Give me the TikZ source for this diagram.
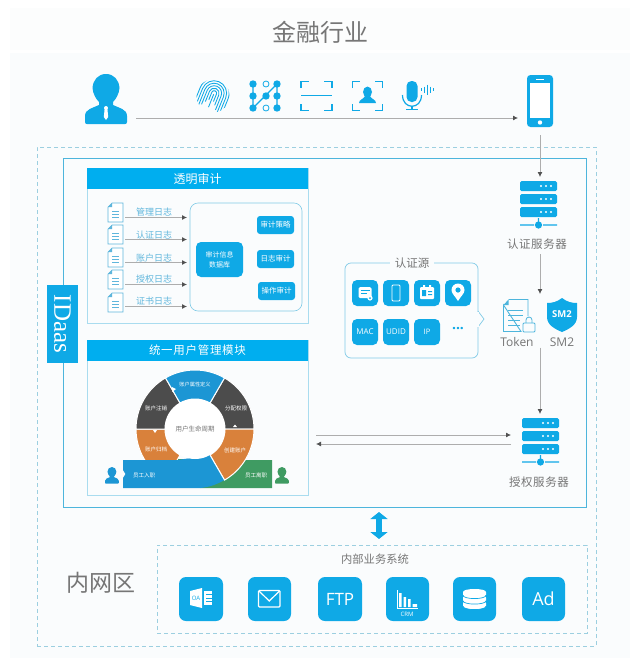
\documentclass[tikz,border=0pt]{standalone}
\usepackage{fontspec}
\setmainfont{Noto Sans CJK SC}
\newfontfamily\latinf{Open Sans}
\newfontfamily\seriff{Liberation Serif}
\usetikzlibrary{arrows.meta}
\definecolor{mainblue}{HTML}{0FA9E6}
\definecolor{headblue}{HTML}{00AEEF}
\definecolor{ringblue}{HTML}{1C96D4}
\definecolor{ringdark}{HTML}{4C4C4C}
\definecolor{ringor}{HTML}{D9813B}
\definecolor{ringgr}{HTML}{3F9B62}
\definecolor{txtgrey}{HTML}{767676}
\definecolor{pale}{HTML}{FAFCFD}
\definecolor{palet}{HTML}{FCFDFD}
\definecolor{frameb}{HTML}{4DB5DC}
\definecolor{panelb}{HTML}{A9DCEF}
\definecolor{dashb}{HTML}{9CCFE0}
\definecolor{doclab}{HTML}{5FB6DC}
\newcommand\fs[1]{\fontsize{#1}{#1}\selectfont}
\newcommand\bx[7]{\pgfmathsetmacro\cxx{(#2+#4)/2}\pgfmathsetmacro\cyy{(#3+#5)/2}\pgfmathsetmacro\www{#4-#2}\pgfmathsetmacro\hhh{#5-#3}\node[#6,minimum width=\www pt,minimum height=\hhh pt,inner sep=0pt,outer sep=0pt](#1) at (\cxx,\cyy){#7};}
\newcommand\servericon[3]{%
 \begin{scope}[shift={(#2,#3)}]
 \bx{#1}{0}{0}{37}{50}{}{}
 \foreach \yy in {0,13,26}{
  \fill[mainblue,rounded corners=1.5pt] (0,\yy) rectangle (37,\yy+10);
  \foreach \xx in {21,26,31}{\fill[white] (\xx,\yy+5) circle[radius=1.2pt];}
 }
 \fill[mainblue] (0,43.3) rectangle (14,44.7) (23,43.3) rectangle (37,44.7) (17.8,37) rectangle (19.2,41);
 \fill[mainblue] (18.5,44) circle[radius=3.6pt];
 \end{scope}}
\newcommand\docicon[3]{%
 \begin{scope}[shift={(#2,#3)}]
 \bx{#1}{0}{0}{15}{19}{}{}
 \draw[doclab,line width=.7pt,fill=white] (4,0) -- (15,0) -- (15,19) -- (0,19) -- (0,4) -- cycle;
 \fill[doclab] (4,0) -- (4,4) -- (0,4) -- cycle;
 \draw[doclab,line width=.5pt] (4,8) -- (11,8) (4,11) -- (11,11) (4,14) -- (11,14);
 \end{scope}}
\newcommand\personshape[4]{% x y scale colour
 \begin{scope}[shift={(#1,#2)},x=#3pt,y=-#3pt]
 \fill[#4] (21,0) .. controls (13,0) and (8,6) .. (7.5,14) .. controls (8,20) and (11,25) .. (14,28) -- (14,31) .. controls (8,34) and (0,35) .. (0,42) -- (0,48) .. controls (0,49.5) and (1,50) .. (2,50) -- (40,50) .. controls (41,50) and (42,49.5) .. (42,48) -- (42,42) .. controls (42,35) and (34,34) .. (28,31) -- (28,28) .. controls (31,25) and (34,20) .. (34.5,14) .. controls (34,6) and (29,0) .. (21,0) -- cycle;
 \end{scope}}
\newcommand\seg[3]{\fill[#1,draw=white,line width=1pt] (#2:59pt) arc[start angle=#2,end angle=#3,radius=59pt] -- (#3:30pt) arc[start angle=#3,end angle=#2,radius=30pt] -- cycle;}
\tikzset{
 x=1pt,y=-1pt,
 txt/.style={text=txtgrey,inner sep=0pt,outer sep=1pt},
 arr/.style={draw=black!32,line width=.8pt,-{Latex[length=5pt,width=5pt,color=black!68]}},
 head/.style={fill=headblue,text=white,font=\fs{12}},
 panel/.style={draw=panelb,line width=.8pt},
 tile/.style={fill=mainblue,rounded corners=5pt,text=white},
 dashbox/.style={draw=dashb,line width=.6pt,dash pattern=on 4pt off 3pt},
 ringlab/.style={text=white,font=\fs{5.2},inner sep=0pt},
 ico/.style={draw=mainblue,line width=1.4pt},
 bluearr/.style={draw=mainblue,line width=6pt,{Triangle[length=7pt,width=17pt]}-{Triangle[length=7pt,width=17pt]}},
}
\begin{document}
\begin{tikzpicture}
\useasboundingbox (0,0) rectangle (640,665);
\fill[white] (0,0) rectangle (640,665);
\fill[palet] (10,8) rectangle (630,50);
\fill[pale] (10,53) rectangle (630,658);
\node[txt,font=\fs{24}] (title) at (320,32) {金融行业};

% outer frames
\bx{outer}{37}{147}{596}{646}{dashbox}{}
\bx{main}{63}{158}{586}{507}{draw=frameb,line width=1pt}{}
\bx{idaas}{47}{285}{78}{363}{fill=mainblue}{}
\node[text=white,rotate=-90,font=\seriff\fs{25},inner sep=0pt] (idaaslabel) at (62.5,324) {IDaas};

% top icon row
\personshape{85}{74}{1}{mainblue}
\bx{person}{85}{74}{127}{124}{}{}
\fill[white] (106,108) circle[radius=2pt];
\fill[white] (104.6,109) -- (107.4,109) -- (108.2,117) -- (106,120) -- (103.8,117) -- cycle;

% fingerprint
\begin{scope}[shift={(213,96)},y=1pt,rotate=-22]
\clip (0,0) circle[radius=16.5pt];
\foreach \rr/\ll in {2.5/5,5/8,7.5/12,10/16,12.5/18,15/20}{
 \draw[mainblue,line width=.85pt] (-\rr,-\ll) -- (-\rr,3) arc[start angle=180,end angle=0,radius=\rr pt] -- (\rr,-\ll);
}
\draw[mainblue,line width=.85pt] (0,2) -- (0,-12);
\end{scope}
\bx{finger}{197}{80}{229}{112}{}{}

% pattern
\draw[mainblue,line width=1.2pt] (253,84) -- (253,108) (277,84) -- (277,108) (253,108) -- (277,84);
\foreach \xx/\yy in {253/84,277/84,253/96,266/96,277/96,253/108,277/108}{\fill[mainblue] (\xx,\yy) circle[radius=3.7pt];}
\foreach \xx/\yy in {266/84,266/108}{\draw[mainblue,line width=.8pt] (\xx,\yy) circle[radius=3pt];}
\bx{pattern}{249}{80}{281}{112}{}{}

% scan frame
\draw[ico] (301,88) -- (301,81.5) -- (309,81.5) (324,81.5) -- (332,81.5) -- (332,88) (301,104) -- (301,110.5) -- (309,110.5) (324,110.5) -- (332,110.5) -- (332,104);
\draw[mainblue,line width=.7pt] (301,95.5) -- (332,95.5);
\bx{scan}{301}{81}{332}{111}{}{}

% face scan
\draw[ico] (352.5,88) -- (352.5,81.5) -- (360,81.5) (375,81.5) -- (382.5,81.5) -- (382.5,88) (352.5,104) -- (352.5,110.5) -- (360,110.5) (375,110.5) -- (382.5,110.5) -- (382.5,104);
\fill[mainblue] (367.5,92) ellipse[x radius=4.5pt,y radius=5.5pt];
\fill[mainblue] (359,103) .. controls (359,99.5) and (364,99) .. (365,96) -- (370,96) .. controls (371,99) and (376,99.5) .. (376,103) -- cycle;
\bx{face}{352}{81}{383}{111}{}{}

% mic
\fill[mainblue,rounded corners=5pt] (406.5,81) rectangle (417.5,102);
\draw[mainblue,line width=1.2pt] (402.5,95) .. controls (402.5,110) and (421.5,110) .. (421.5,95);
\draw[mainblue,line width=1.2pt] (412,106) -- (412,109.5) (406,109.5) -- (418,109.5);
\foreach \xx/\hh in {421/1.5,424/3,427/5,430/3,433/1.5}{\draw[mainblue,line width=.7pt] (\xx,89.5-\hh) -- (\xx,89.5+\hh);}
\bx{mic}{402}{81}{434}{110}{}{}

% phone
\bx{phone}{527}{75}{553}{127}{fill=mainblue,rounded corners=3.5pt}{}
\fill[white] (530,83) rectangle (550,118);
\fill[white] (540,122.5) circle[radius=2.2pt];
\fill[white] (536,78.5) rectangle (544,80);

% servers
\servericon{authsrv}{520}{181}
\node[txt,font=\fs{11.5}] (authlab) at (537,244) {认\hspace{.6pt}证\hspace{.6pt}服\hspace{.6pt}务\hspace{.6pt}器};
\servericon{azsrv}{522}{418}
\node[txt,font=\fs{11.5}] (azlab) at (539,482) {授\hspace{.6pt}权\hspace{.6pt}服\hspace{.6pt}务\hspace{.6pt}器};

% Token
\bx{token}{503}{299}{535}{332}{}{}
\draw[frameb,line width=.9pt] (508.5,299.5) -- (528,299.5) -- (528,316) (521,331.5) -- (503.5,331.5) -- (503.5,305) -- cycle;
\fill[frameb] (508.5,299.5) -- (508.5,305) -- (503.5,305) -- cycle;
\draw[frameb,line width=.7pt] (508,310) -- (523,310) (508,315) -- (523,315) (508,320) -- (520,320) (508,325) -- (520,325);
\draw[frameb,line width=.8pt,fill=pale,rounded corners=1pt] (523,323) rectangle (535,332);
\draw[frameb,line width=.8pt] (526,323) -- (526,320) arc[start angle=180,end angle=0,radius=3pt] -- (532,323);
\node[txt,font=\latinf\fs{12}] (tokenlab) at (517,342) {Token};
% SM2
\path[fill=mainblue] (562,298) .. controls (567,302) and (572,303) .. (577,303) -- (577,317) .. controls (577,325) and (569,329) .. (562,332) .. controls (555,329) and (547,325) .. (547,317) -- (547,303) .. controls (552,303) and (557,302) .. (562,298) -- cycle;
\node[text=white,font=\latinf\bfseries\fs{9.5},inner sep=0pt] (smtxt) at (562,314) {SM2};
\bx{sm}{547}{298}{577}{332}{}{}
\node[txt,font=\latinf\fs{12}] (smlab) at (562,342) {SM2};

% auth source
\draw[frameb!70,line width=.7pt,rounded corners=6pt,fill=pale] (345,263) rectangle (478,358);
\fill[pale,draw=frameb!70,line width=.7pt] (478,311) -- (484,319) -- (478,327);
\fill[pale] (477,311.5) rectangle (479,326.5);
\bx{src}{345}{263}{478}{358}{}{}
\node[txt,fill=pale,inner xsep=5pt,font=\fs{11.5}] (srclab) at (412,263.5) {认证源};
\bx{s1}{352}{280}{378}{306}{tile}{}
\bx{s2}{383}{280}{409}{306}{tile}{}
\bx{s3}{414}{280}{440}{306}{tile}{}
\bx{s4}{445}{280}{471}{306}{tile}{}
\bx{s5}{352}{319}{378}{345}{tile,font=\latinf\fs{8}}{MAC}
\bx{s6}{383}{319}{409}{345}{tile,font=\latinf\fs{8}}{UDID}
\bx{s7}{414}{319}{440}{345}{tile,font=\latinf\fs{7.5}}{IP}
\node[text=mainblue,inner sep=0pt,font=\latinf\bfseries\fs{14}] (s8) at (458,328.5) {...};
% s1 glyph
\fill[white,rounded corners=1.5pt] (358.5,287) rectangle (371.5,298);
\draw[mainblue,line width=.7pt] (360.5,290) -- (369.5,290) (361,293) -- (367,293);
\fill[white] (370,298) circle[radius=2.6pt];
\fill[mainblue] (370,298) circle[radius=1pt];
% s2 glyph
\draw[white,line width=.9pt,rounded corners=1pt] (392,285) rectangle (400,301);
% s3 glyph
\fill[white,rounded corners=1pt] (420,287) rectangle (434,299);
\fill[mainblue] (422,290) rectangle (426,296) (428,291) rectangle (432,292) (428,294) rectangle (432,295);
\fill[white] (423,285) rectangle (425,288) (429,285) rectangle (431,288);
% s4 glyph
\fill[white] (458,301) .. controls (455,296) and (451.5,293.5) .. (451.5,290) arc[start angle=180,end angle=0,radius=6.5pt] .. controls (464.5,293.5) and (461,296) .. (458,301) -- cycle;
\fill[mainblue] (458,290) circle[radius=2.6pt];

% audit panel
\bx{audit}{87}{168}{308}{323}{panel}{}
\bx{audithead}{87}{168}{308}{189}{head}{透明审计}
\bx{inner}{190}{203}{302}{311}{draw=frameb!70,line width=.6pt,rounded corners=8pt}{}
\bx{db}{196}{242}{243}{277}{tile,font=\fs{7},align=center}{审计信息\\[3pt]数据库}
\bx{a1}{257}{216}{294}{234}{tile,rounded corners=3pt,font=\fs{7.5}}{审计策略}
\bx{a2}{257}{250}{294}{268}{tile,rounded corners=3pt,font=\fs{7.5}}{日志审计}
\bx{a3}{258}{282}{295}{300}{tile,rounded corners=3pt,font=\fs{7.5}}{操作审计}
\docicon{d1}{108}{203}
\docicon{d2}{108}{225}
\docicon{d3}{108}{248}
\docicon{d4}{108}{270}
\docicon{d5}{108}{293}
\node[text=doclab,font=\fs{9},inner sep=0pt] (l1) at (154,212) {管理日志};
\node[text=doclab,font=\fs{9},inner sep=0pt] (l2) at (154,235) {认证日志};
\node[text=doclab,font=\fs{9},inner sep=0pt] (l3) at (154,258) {账户日志};
\node[text=doclab,font=\fs{9},inner sep=0pt] (l4) at (154,279) {授权日志};
\node[text=doclab,font=\fs{9},inner sep=0pt] (l5) at (154,301) {证书日志};
\draw[arr] ([xshift=2pt,yshift=-5pt]d1.east) -- ([xshift=-3pt,yshift=-5pt]d1.east -| inner.west);
\draw[arr] ([xshift=2pt,yshift=-5pt]d2.east) -- ([xshift=-3pt,yshift=-5pt]d2.east -| inner.west);
\draw[arr] ([xshift=2pt,yshift=-5pt]d3.east) -- ([xshift=-3pt,yshift=-5pt]d3.east -| inner.west);
\draw[arr] ([xshift=2pt,yshift=-5pt]d4.east) -- ([xshift=-3pt,yshift=-5pt]d4.east -| inner.west);
\draw[arr] ([xshift=2pt,yshift=-4pt]d5.east) -- ([xshift=-3pt,yshift=-4pt]d5.east -| inner.west);

% user panel
\bx{users}{87}{340}{308}{495}{panel}{}
\bx{usershead}{87}{340}{308}{361}{head,font=\fs{11.5}}{统\hspace{.7pt}一\hspace{.7pt}用\hspace{.7pt}户\hspace{.7pt}管\hspace{.7pt}理\hspace{.7pt}模\hspace{.7pt}块}
\begin{scope}[shift={(195,429)},y=1pt]
\seg{ringor}{180}{240}
\seg{ringor}{0}{-60}
\seg{ringdark}{120}{180}
\seg{ringdark}{0}{60}
\seg{ringblue}{60}{120}
\fill[white] (-38,-1) -- (-42,-1) -- (-40,-4) -- cycle;
\fill[white] (38,2) -- (42,2) -- (40,4.5) -- cycle;
\fill[white] (-23,37) -- (-19,40) -- (-23,42) -- cycle;
\end{scope}
% lifecycle band
\fill[ringgr] (205,460) -- (272,460) -- (272,488) -- (200,488) -- cycle;
\fill[ringgr] (178,459) rectangle (195,462);
\begin{scope}[shift={(195,429)},y=1pt]
\seg{ringor}{0}{-60}
\end{scope}
\fill[ringblue] (123,460) -- (178,460) -- (210,455) -- (224.5,480) .. controls (217,484.5) and (208,487.5) .. (200,488) -- (123,488) -- (123,478) -- (125.5,474) -- (123,470) -- cycle;
\draw[white,line width=1pt] (210,455) -- (224.5,480);
\fill[white] (195,429) circle[radius=30pt];
\node[ringlab] (r1) at (195,385) {账户属性定义};
\node[ringlab,font=\fs{5.5}] (r2) at (156,408) {账户注销};
\node[ringlab,font=\fs{5.5}] (r3) at (236,408) {分配权限};
\node[ringlab,font=\fs{5.5}] (r4) at (156,449) {账户归档};
\node[ringlab,font=\fs{5.5}] (r5) at (235,450) {创建账户};
\node[txt,font=\fs{6.5}] (r0) at (195,429) {用户生命周期};
\node[ringlab,font=\fs{5.5}] (r6) at (144,475) {员工入职};
\node[ringlab,font=\fs{5.5}] (r7) at (256,475) {员工离职};
\personshape{105}{467}{.33}{ringblue}
\bx{emp1}{105}{467}{119}{482}{}{}
\personshape{275}{467}{.33}{ringgr}
\bx{emp2}{275}{467}{289}{482}{}{}
\node[text=ringgr,font=\latinf\fs{4},inner sep=0pt] (empx) at (288,481) {x};

% intranet box
\bx{biz}{157}{545}{587}{633}{dashbox}{}

% connectors
\draw[arr] ([xshift=9pt,yshift=6pt]person.south east) -- ([xshift=-9pt,yshift=-17pt]phone.west);
\draw[arr] ([yshift=-8pt]phone.south) -- ([xshift=1.5pt,yshift=4pt]authsrv.north);
\draw[arr] ([xshift=3pt,yshift=-4pt]authlab.south) -- ([xshift=3pt,yshift=5pt]authlab.south |- token.north);
\draw[arr] ([xshift=3pt]authlab.south |- tokenlab.south) -- ([xshift=-.5pt,yshift=4pt]azsrv.north);
\coordinate (userside) at (316,435);
\coordinate (userside2) at (316,444);
\draw[arr] (userside) -- ([xshift=-11pt,yshift=8pt]azsrv.west);
\draw[arr] ([xshift=-11pt,yshift=-1pt]azsrv.west) -- (userside2);
\draw[bluearr] ([xshift=54.5pt,yshift=-5pt]main.south) -- ([xshift=7pt,yshift=6pt]biz.north);

% intranet
\node[txt,font=\fs{23}] (intra) at (101,583) {内网区};
\node[txt,font=\fs{11.3}] (bizlab) at (375,559) {内部业务系统};
\bx{b1}{179}{577}{223}{621}{tile,rounded corners=7pt}{}
\bx{b2}{248}{577}{291}{621}{tile,rounded corners=7pt}{}
\bx{b3}{318}{577}{362}{621}{tile,rounded corners=7pt,font=\latinf\fs{17}}{FTP}
\bx{b4}{386}{577}{429}{621}{tile,rounded corners=7pt}{}
\bx{b5}{453}{577}{496}{621}{tile,rounded corners=7pt}{}
\bx{b6}{522}{577}{565}{621}{tile,rounded corners=7pt,font=\latinf\fs{18}}{Ad}
% OA glyph
\fill[white] (190,591) -- (202,588) -- (202,608) -- (190,605) -- cycle;
\fill[white] (203.5,591) rectangle (212,605);
\foreach \yy in {594.5,598,601.5}{\draw[mainblue,line width=.6pt] (206,\yy) -- (212,\yy);}
\node[text=mainblue,font=\latinf\fs{6},inner sep=0pt] (oatxt) at (196,598.5) {OA};
% mail glyph
\draw[white,line width=1.2pt,rounded corners=1pt] (258.5,590.5) rectangle (280,607);
\draw[white,line width=1.2pt] (259,591) -- (269.25,601) -- (279.5,591);
% CRM glyph
\draw[white,line width=.8pt] (397,590) -- (397,608.5) -- (418,608.5);
\fill[white] (399,593) rectangle (401.5,607) (403.5,597) rectangle (406,607) (408,599) rectangle (410.5,607) (412.5,604) rectangle (417,607);
\node[text=white,font=\latinf\fs{6},inner sep=0pt] (crm) at (407,614.5) {CRM};
% DB glyph
\foreach \yy in {603,597.5,592}{
 \fill[white] (463,\yy) -- (463,\yy+3) .. controls (463,\yy+7.5) and (486,\yy+7.5) .. (486,\yy+3) -- (486,\yy) .. controls (486,\yy-4) and (463,\yy-4) .. (463,\yy) -- cycle;
 \draw[mainblue,line width=.7pt] (463,\yy+3.2) .. controls (463,\yy+7.7) and (486,\yy+7.7) .. (486,\yy+3.2);
}
\end{tikzpicture}
\end{document}
